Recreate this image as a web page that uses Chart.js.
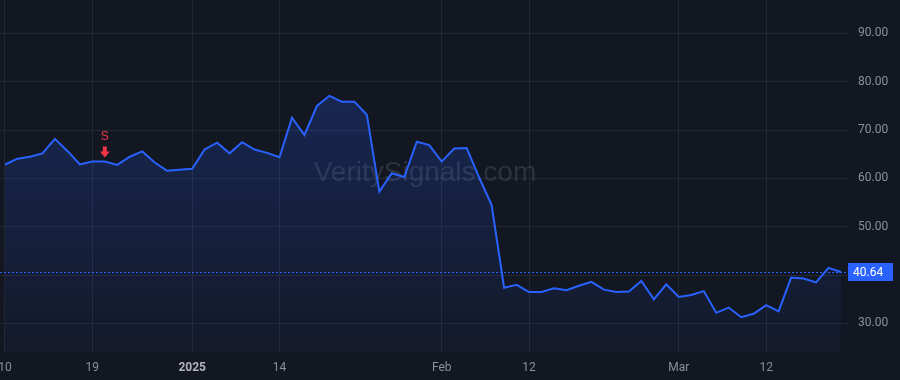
<!DOCTYPE html>
<html>
<head>
<meta charset="utf-8">
<script src="https://cdn.jsdelivr.net/npm/chart.js@4"></script>
<style>
  html, body { margin: 0; padding: 0; background: #131722; }
  #wrap { width: 900px; height: 380px; position: relative; }
</style>
</head>
<body>
<div id="wrap"><canvas id="priceChart"></canvas></div>
<script>
// Daily closes, Dec 10 2024 -> Mar 20 2025 (trading days only)
const prices = [
    62.9, 64.1, 64.5, 65.2, 68.2, 65.7, 62.9, 63.5, 63.5, 62.8,
    64.5, 65.6, 63.3, 61.6, 61.8, 62.0, 66.0, 67.4, 65.2, 67.5,
    66.0, 65.3, 64.4, 72.6, 69.0, 75.0, 77.1, 75.9, 75.9, 73.2,
    57.3, 61.1, 60.3, 67.6, 66.9, 63.5, 66.2, 66.3, 60.2, 54.5,
    37.4, 38.0, 36.5, 36.5, 37.3, 36.9, 37.8, 38.6, 37.0, 36.5,
    36.6, 38.8, 35.0, 38.1, 35.5, 35.9, 36.7, 32.2, 33.3, 31.3,
    32.0, 33.8, 32.5, 39.5, 39.3, 38.5, 41.5, 40.64
];

// x axis labels (index into prices)
const tickIdx = [0, 7, 15, 22, 35, 42, 54, 61];
const tickText = ['10', '19', '2025', '14', 'Feb', '12', 'Mar', '12'];

const yTicks = [30, 40, 50, 60, 70, 80, 90];
const lastPrice = 40.64;

// sell signal marker
const signalIdx = 8;
const signalLabel = 'S';

const watermark = 'VeritySignals.com';

const BLUE = '#2962ff';
const GRID = '#232733';
const TEXT = '#8c9099';

function isYearTick(c) {
    return !!(c && c.tick && tickText[tickIdx.indexOf(c.tick.value)] === '2025');
}

const overlay = {
    id: 'overlay',
    beforeDatasetsDraw(chart) {
        const { ctx } = chart;
        ctx.save();
        ctx.font = '28px "Liberation Sans", Arial, sans-serif';
        ctx.fillStyle = 'rgba(150,155,170,0.2)';
        ctx.textAlign = 'center';
        ctx.textBaseline = 'middle';
        ctx.fillText(watermark, 425, 173);
        ctx.restore();
    },
    afterDatasetsDraw(chart) {
        const { ctx, chartArea, scales } = chart;
        const x = scales.x, y = scales.y;

        // last price dotted line
        const ly = Math.round(y.getPixelForValue(lastPrice)) + 0.5;
        ctx.save();
        ctx.strokeStyle = BLUE;
        ctx.lineWidth = 1;
        ctx.setLineDash([2, 2]);
        ctx.beginPath();
        ctx.moveTo(chartArea.left, ly);
        ctx.lineTo(chartArea.right, ly);
        ctx.stroke();
        ctx.setLineDash([]);

        // price tag on the axis
        ctx.fillStyle = BLUE;
        ctx.fillRect(chartArea.right, ly - 9.5, 45, 18);
        ctx.fillStyle = '#ffffff';
        ctx.font = '12px Roboto, "Liberation Sans", sans-serif';
        ctx.textAlign = 'left';
        ctx.textBaseline = 'middle';
        ctx.fillText(lastPrice.toFixed(2), chartArea.right + 5, ly);

        // sell arrow + label
        const sx = x.getPixelForValue(signalIdx);
        const sy = y.getPixelForValue(prices[signalIdx]);
        const tip = sy - 4;
        ctx.fillStyle = '#f23645';
        ctx.beginPath();
        ctx.rect(sx - 2, tip - 11, 4, 6);
        ctx.moveTo(sx - 5, tip - 6);
        ctx.lineTo(sx + 5, tip - 6);
        ctx.lineTo(sx, tip);
        ctx.closePath();
        ctx.fill();
        ctx.font = '12px "Liberation Sans", Arial, sans-serif';
        ctx.textAlign = 'center';
        ctx.fillText(signalLabel, sx, tip - 21);
        ctx.restore();
    }
};

const ctx = document.getElementById('priceChart').getContext('2d');

new Chart(ctx, {
    type: 'line',
    data: {
        datasets: [{
            data: prices.map((p, i) => ({ x: i, y: p })),
            borderColor: BLUE,
            borderWidth: 2,
            pointRadius: 0,
            tension: 0,
            fill: 'start',
            backgroundColor: (c) => {
                const area = c.chart.chartArea;
                if (!area) return 'rgba(41,98,255,0.2)';
                const g = c.chart.ctx.createLinearGradient(0, area.top, 0, area.bottom);
                g.addColorStop(0, 'rgba(41,98,255,0.28)');
                g.addColorStop(1, 'rgba(41,98,255,0.04)');
                return g;
            }
        }]
    },
    options: {
        responsive: true,
        maintainAspectRatio: false,
        animation: false,
        layout: { padding: 0 },
        plugins: {
            legend: { display: false },
            tooltip: { enabled: false }
        },
        scales: {
            x: {
                type: 'linear',
                min: -0.4,
                max: prices.length - 1 + 0.56,
                afterBuildTicks: (s) => { s.ticks = tickIdx.map(v => ({ value: v })); },
                afterFit: (s) => {
                    s.height = 28;
                    s.paddingLeft = 0;
                    s.paddingRight = 0;
                },
                grid: { color: GRID, drawTicks: false },
                border: { display: false },
                ticks: {
                    autoSkip: false,
                    maxRotation: 0,
                    padding: 9,
                    color: (c) => isYearTick(c) ? '#b2b5be' : TEXT,
                    font: (c) => ({
                        family: 'Roboto, "Liberation Sans", sans-serif',
                        size: 12,
                        weight: isYearTick(c) ? 'bold' : 'normal'
                    }),
                    callback: (v) => tickText[tickIdx.indexOf(v)]
                }
            },
            y: {
                position: 'right',
                min: 24.1,
                max: 96.93,
                afterBuildTicks: (s) => { s.ticks = yTicks.map(v => ({ value: v })); },
                afterFit: (s) => {
                    s.width = 52;
                    s.paddingTop = 0;
                    s.paddingBottom = 0;
                },
                grid: { color: GRID, drawTicks: false },
                border: { display: false },
                ticks: {
                    padding: 10,
                    color: TEXT,
                    font: { family: 'Roboto, "Liberation Sans", sans-serif', size: 12 },
                    callback: (v) => v.toFixed(2)
                }
            }
        }
    },
    plugins: [overlay]
});
</script>
</body>
</html>
